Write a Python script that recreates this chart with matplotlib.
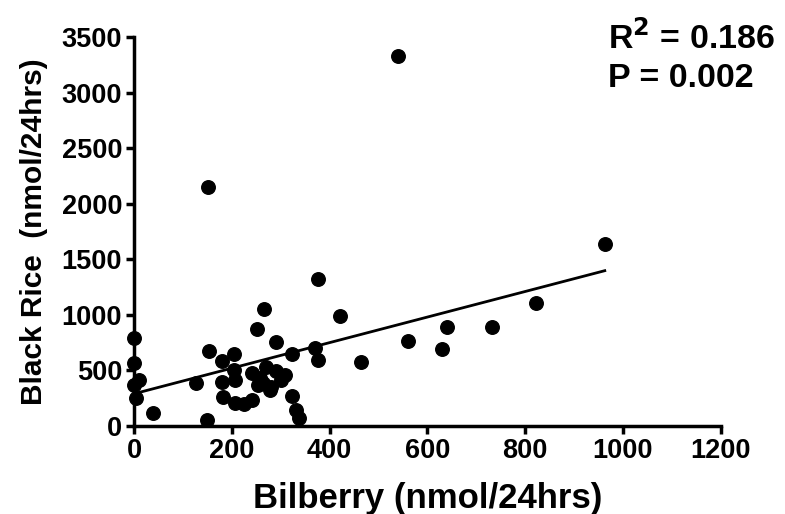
import numpy as np
import matplotlib
matplotlib.use("Agg")
from matplotlib import pyplot as plt

plt.rcParams['font.family'] = ['Liberation Sans', 'DejaVu Sans']
plt.rcParams['font.weight'] = 'bold'

# values
bilberry = [0, 0, 0, 10, 5, 39, 150, 151, 153, 127, 180, 180, 182, 205, 205,
            206, 206, 225, 241, 242, 252, 254, 257, 264, 265, 271, 279, 281,
            290, 291, 301, 308, 323, 323, 332, 337, 371, 376, 376, 422, 465,
            540, 560, 630, 641, 733, 822, 963]
black_rice = [795, 564, 369, 414, 249, 114, 54, 2148, 678, 384, 588, 399, 264,
              645, 504, 414, 204, 195, 480, 234, 870, 369, 429, 384, 1053, 528,
              324, 354, 495, 753, 414, 459, 645, 270, 144, 69, 699, 1323, 594,
              990, 573, 3330, 765, 693, 891, 891, 1107, 1638]

# regression line
fit_intercept = 290
fit_slope = 1.15
r_squared = "0.186"
p_value = "0.002"

fig = plt.figure(figsize=(7.85, 5.14), dpi=100)
ax = fig.add_axes([0.1707, 0.1712, 0.918 - 0.1707, 0.928 - 0.1712])

ax.scatter(bilberry, black_rice, s=95, color='black', zorder=3, clip_on=False)
xl = np.array([min(bilberry), max(bilberry)])
ax.plot(xl, fit_intercept + fit_slope * xl, color='black', lw=2)

ax.set_xlim(0, 1200)
ax.set_ylim(0, 3500)
ax.set_xticks(range(0, 1201, 200))
ax.set_yticks(range(0, 3501, 500))
for s in ['top', 'right']:
    ax.spines[s].set_visible(False)
for s in ['left', 'bottom']:
    ax.spines[s].set_linewidth(2.5)
ax.tick_params(width=2.5, length=6, pad=2.5, labelsize=19.5)
for lab in ax.get_xticklabels() + ax.get_yticklabels():
    lab.set_fontweight('bold')

ax.set_xlabel('Bilberry (nmol/24hrs)', fontsize=25, fontweight='bold', labelpad=13)
ax.set_ylabel('Black Rice  (nmol/24hrs)', fontsize=21.5, fontweight='bold', labelpad=10)

fig.text(0.774, 0.926, r'R$^\mathbf{2}$ = ' + r_squared, fontsize=24.5, fontweight='bold', va='center')
fig.text(0.774, 0.847, 'P = ' + p_value, fontsize=24.5, fontweight='bold', va='center')

fig.savefig('out.png', dpi=100)
